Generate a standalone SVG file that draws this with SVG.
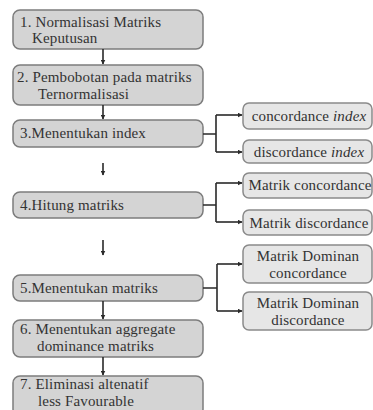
<svg xmlns="http://www.w3.org/2000/svg" width="373" height="410" viewBox="0 0 373 410">
<defs>
<marker id="ah" viewBox="0 0 10 10" refX="9" refY="5" markerWidth="5" markerHeight="5" orient="auto" markerUnits="userSpaceOnUse">
<path d="M0,0 L10,5 L0,10 Z" fill="#2a2a2a"/>
</marker>
<style>
.lb{fill:#d4d4d4;stroke:#7c7c7c;stroke-width:1.5}
.rb{fill:#e6e6e6;stroke:#8a8a8a;stroke-width:1.5}
text{font-family:"Liberation Serif","Times New Roman",serif;font-size:15px;fill:#333;letter-spacing:0.15px}
.c{text-anchor:middle}
.ln{fill:none;stroke:#2a2a2a;stroke-width:1.6}
</style>
</defs>
<rect width="373" height="410" fill="#ffffff"/>
<g id="n1"><rect class="lb" x="13" y="10" width="190" height="39" rx="7"/><text x="20" y="26.5">1. Normalisasi Matriks</text><text x="32" y="43.2">Keputusan</text></g>
<g id="n2"><rect class="lb" x="13" y="65" width="190" height="40" rx="7"/><text x="17" y="82">2. Pembobotan pada matriks</text><text x="38" y="98.7">Ternormalisasi</text></g>
<g id="n3"><rect class="lb" x="13" y="120" width="190" height="27" rx="7"/><text x="20" y="138">3.Menentukan index</text></g>
<g id="n4"><rect class="lb" x="13" y="192" width="190" height="26" rx="7"/><text x="20" y="210">4.Hitung matriks</text></g>
<g id="n5"><rect class="lb" x="13" y="275" width="190" height="26" rx="7"/><text x="20" y="293">5.Menentukan matriks</text></g>
<g id="n6"><rect class="lb" x="13" y="320" width="190" height="37" rx="7"/><text x="20" y="334">6. Menentukan aggregate</text><text x="37" y="350.7">dominance matriks</text></g>
<g id="n7"><rect class="lb" x="13" y="376" width="190" height="40" rx="7"/><text x="20" y="389">7. Eliminasi altenatif</text><text x="38" y="405.7">less Favourable</text></g>
<g id="r1"><rect class="rb" x="243" y="103" width="129" height="26" rx="6"/><text class="c" x="309" y="121">concordance <tspan font-style="italic">index</tspan></text></g>
<g id="r2"><rect class="rb" x="243" y="140" width="129" height="23" rx="6"/><text class="c" x="309" y="157">discordance <tspan font-style="italic">index</tspan></text></g>
<g id="r3"><rect class="rb" x="243" y="173" width="129" height="25" rx="6"/><text class="c" x="310" y="190">Matrik concordance</text></g>
<g id="r4"><rect class="rb" x="243" y="210" width="129" height="25" rx="6"/><text class="c" x="309" y="228">Matrik discordance</text></g>
<g id="r5"><rect class="rb" x="243" y="245" width="129" height="38" rx="6"/><text class="c" x="308" y="261.2">Matrik Dominan</text><text class="c" x="308" y="277.9">concordance</text></g>
<g id="r6"><rect class="rb" x="243" y="292" width="129" height="38" rx="6"/><text class="c" x="308" y="308">Matrik  Dominan</text><text class="c" x="308" y="324.7">discordance</text></g>
<g id="connectors">
<path class="ln" d="M103,49 V64" marker-end="url(#ah)"/>
<path class="ln" d="M103,105 V119" marker-end="url(#ah)"/>
<path class="ln" d="M103,163 V175" marker-end="url(#ah)"/>
<path class="ln" d="M103,240 V255" marker-end="url(#ah)"/>
<path class="ln" d="M103,301 V319" marker-end="url(#ah)"/>
<path class="ln" d="M103,357 V375" marker-end="url(#ah)"/>
<path class="ln" d="M203,134 H216 M216,115 V152"/>
<path class="ln" d="M216,115 H242" marker-end="url(#ah)"/>
<path class="ln" d="M216,152 H242" marker-end="url(#ah)"/>
<path class="ln" d="M203,205 H216 M216,183 V222"/>
<path class="ln" d="M216,183 H242" marker-end="url(#ah)"/>
<path class="ln" d="M216,222 H242" marker-end="url(#ah)"/>
<path class="ln" d="M203,288 H217 M217,264 V311"/>
<path class="ln" d="M217,264 H242" marker-end="url(#ah)"/>
<path class="ln" d="M217,311 H242" marker-end="url(#ah)"/>
</g>
</svg>
